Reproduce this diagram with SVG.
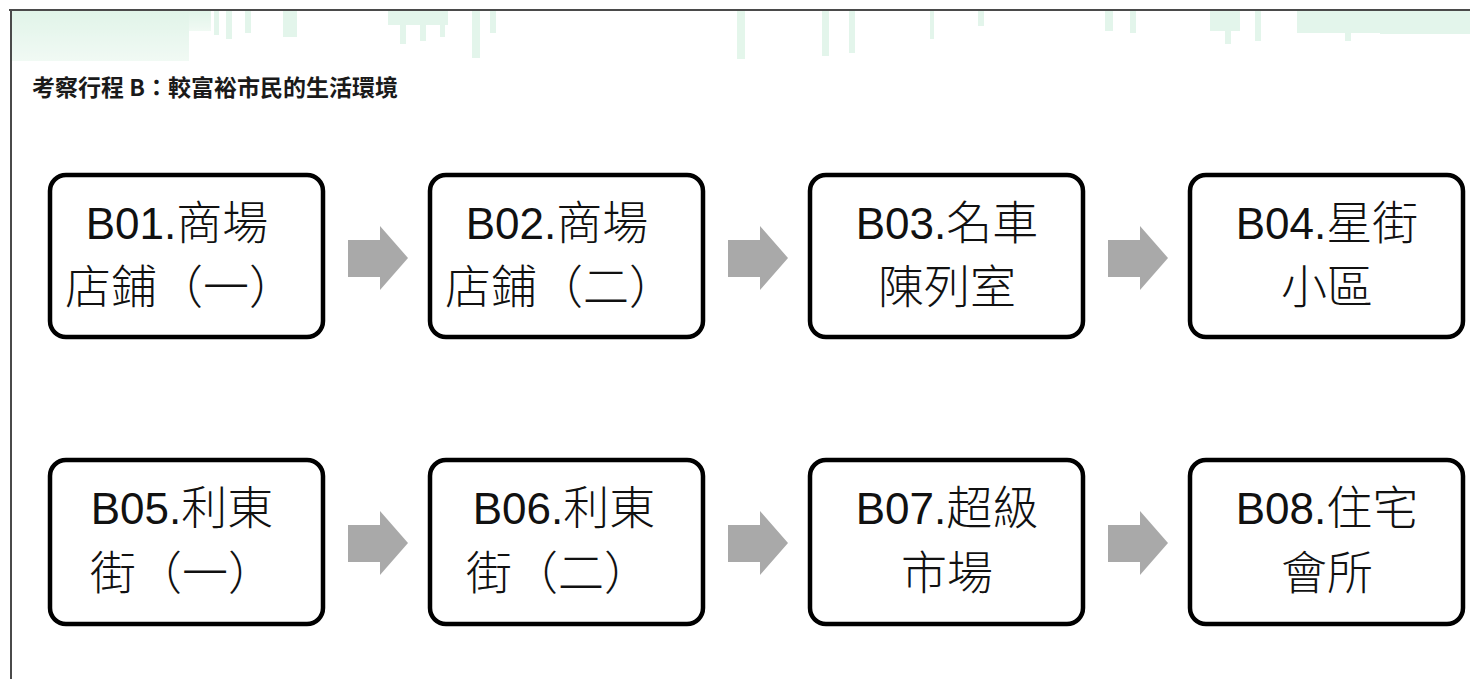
<svg xmlns="http://www.w3.org/2000/svg" width="1470" height="679" viewBox="0 0 1470 679">
<defs>
<style>
.box{fill:#ffffff;stroke:#000000;stroke-width:4.5}
.arrow{fill:#a9a9a9}
.lbl{font-size:46px;fill:#111111;text-anchor:middle}
.lat{font-family:"Liberation Sans",Arial,sans-serif;font-size:44px}
.cjk{font-family:"Noto Sans CJK TC","Noto Sans CJK SC",sans-serif;font-weight:300}
.title{font-family:"Noto Sans CJK TC","Noto Sans CJK SC",sans-serif;font-size:23px;font-weight:700;fill:#1a1a1a}
.sky{fill:#cdeedb}
</style>
<linearGradient id="fadeL" x1="0" y1="0" x2="0" y2="1">
<stop offset="0" stop-color="#c9ecd7"/>
<stop offset="1" stop-color="#e6f6ec"/>
</linearGradient>
</defs>
<rect x="0" y="0" width="1470" height="679" fill="#ffffff"/>
<g id="skyline" opacity="0.55">
<rect x="11" y="11" width="200" height="20" fill="url(#fadeL)"/>
<rect x="11" y="11" width="178" height="50" fill="url(#fadeL)"/>
<rect x="214" y="11" width="5" height="24" class="sky"/>
<rect x="226" y="11" width="6" height="28" class="sky"/>
<rect x="245" y="11" width="6" height="22" class="sky"/>
<rect x="283" y="11" width="14" height="26" class="sky"/>
<rect x="388" y="11" width="60" height="14" class="sky"/>
<rect x="400" y="11" width="6" height="33" class="sky"/>
<rect x="420" y="11" width="6" height="30" class="sky"/>
<rect x="440" y="11" width="5" height="26" class="sky"/>
<rect x="472" y="11" width="8" height="47" class="sky"/>
<rect x="490" y="11" width="6" height="22" class="sky"/>
<rect x="737" y="11" width="8" height="48" class="sky"/>
<rect x="822" y="11" width="7" height="45" class="sky"/>
<rect x="849" y="11" width="6" height="42" class="sky"/>
<rect x="930" y="11" width="4" height="28" class="sky"/>
<rect x="978" y="11" width="6" height="15" class="sky"/>
<rect x="1105" y="11" width="8" height="20" class="sky"/>
<rect x="1130" y="11" width="6" height="22" class="sky"/>
<rect x="1210" y="11" width="30" height="20" class="sky"/>
<rect x="1225" y="11" width="6" height="33" class="sky"/>
<rect x="1255" y="11" width="6" height="30" class="sky"/>
<rect x="1297" y="11" width="173" height="22" class="sky"/>
<rect x="1345" y="11" width="6" height="30" class="sky"/>
<rect x="1380" y="11" width="90" height="23" class="sky"/>
</g>
<g id="frame">
<line x1="9" y1="10" x2="1470" y2="10" stroke="#4a4a4a" stroke-width="2"/>
<line x1="11" y1="10" x2="11" y2="679" stroke="#4a4a4a" stroke-width="2"/>
</g>
<g id="title">
<text class="title" x="32" y="96">考察行程 B：較富裕市民的生活環境</text>
</g>
<g id="connectors">
<polygon class="arrow" points="348,240 380,240 380,226 408,258 380,290 380,277 348,277"/>
<polygon class="arrow" points="728,240 760,240 760,226 788,258 760,290 760,277 728,277"/>
<polygon class="arrow" points="1108,240 1140,240 1140,226 1168,258 1140,290 1140,277 1108,277"/>
<polygon class="arrow" points="348,525 380,525 380,511 408,543 380,575 380,562 348,562"/>
<polygon class="arrow" points="728,525 760,525 760,511 788,543 760,575 760,562 728,562"/>
<polygon class="arrow" points="1108,525 1140,525 1140,511 1168,543 1140,575 1140,562 1108,562"/>
</g>
<g id="B01">
<rect class="box" x="50" y="175" width="273" height="162" rx="16"/>
<text class="lbl" x="177" y="239"><tspan class="lat">B01.</tspan><tspan class="cjk">商場</tspan></text>
<text class="lbl cjk" x="180" y="303">店鋪（一）</text>
</g>
<g id="B02">
<rect class="box" x="430" y="175" width="273" height="162" rx="16"/>
<text class="lbl" x="557" y="239"><tspan class="lat">B02.</tspan><tspan class="cjk">商場</tspan></text>
<text class="lbl cjk" x="560" y="303">店鋪（二）</text>
</g>
<g id="B03">
<rect class="box" x="810" y="175" width="273" height="162" rx="16"/>
<text class="lbl" x="947" y="239"><tspan class="lat">B03.</tspan><tspan class="cjk">名車</tspan></text>
<text class="lbl cjk" x="947" y="303">陳列室</text>
</g>
<g id="B04">
<rect class="box" x="1190" y="175" width="273" height="162" rx="16"/>
<text class="lbl" x="1327" y="239"><tspan class="lat">B04.</tspan><tspan class="cjk">星街</tspan></text>
<text class="lbl cjk" x="1327" y="303">小區</text>
</g>
<g id="B05">
<rect class="box" x="50" y="460" width="273" height="164" rx="16"/>
<text class="lbl" x="182" y="524"><tspan class="lat">B05.</tspan><tspan class="cjk">利東</tspan></text>
<text class="lbl cjk" x="182" y="589">街（一）</text>
</g>
<g id="B06">
<rect class="box" x="430" y="460" width="273" height="164" rx="16"/>
<text class="lbl" x="564" y="524"><tspan class="lat">B06.</tspan><tspan class="cjk">利東</tspan></text>
<text class="lbl cjk" x="558" y="589">街（二）</text>
</g>
<g id="B07">
<rect class="box" x="810" y="460" width="273" height="164" rx="16"/>
<text class="lbl" x="947" y="524"><tspan class="lat">B07.</tspan><tspan class="cjk">超級</tspan></text>
<text class="lbl cjk" x="947" y="589">市場</text>
</g>
<g id="B08">
<rect class="box" x="1190" y="460" width="273" height="164" rx="16"/>
<text class="lbl" x="1327" y="524"><tspan class="lat">B08.</tspan><tspan class="cjk">住宅</tspan></text>
<text class="lbl cjk" x="1327" y="589">會所</text>
</g>
</svg>
